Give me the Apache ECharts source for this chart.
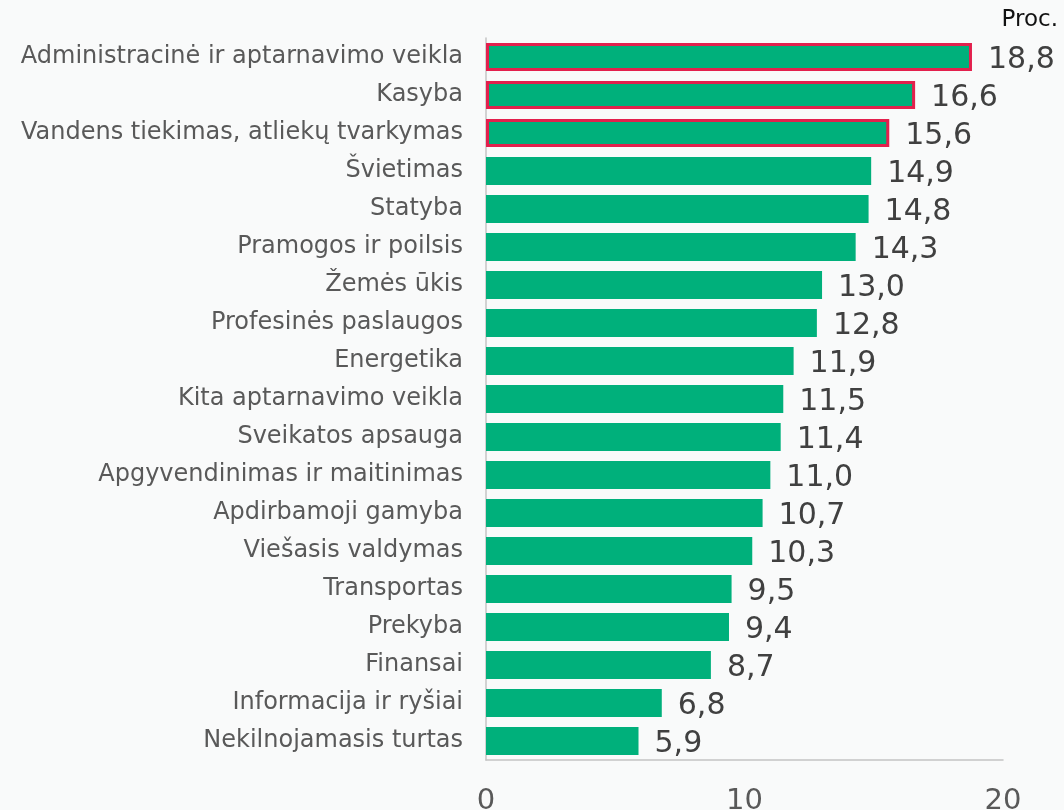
<!DOCTYPE html>
<html>
<head>
<meta charset="utf-8">
<script src="https://cdn.jsdelivr.net/npm/echarts@6/dist/echarts.min.js"></script>
<style>
  html, body { margin: 0; padding: 0; background: #f9fafa; }
  #chart { width: 1064px; height: 810px; }
</style>
</head>
<body>
<div id="chart"></div>
<script>
  // categories top to bottom
  var categories = [
    'Administracinė ir aptarnavimo veikla',
    'Kasyba',
    'Vandens tiekimas, atliekų tvarkymas',
    'Švietimas',
    'Statyba',
    'Pramogos ir poilsis',
    'Žemės ūkis',
    'Profesinės paslaugos',
    'Energetika',
    'Kita aptarnavimo veikla',
    'Sveikatos apsauga',
    'Apgyvendinimas ir maitinimas',
    'Apdirbamoji gamyba',
    'Viešasis valdymas',
    'Transportas',
    'Prekyba',
    'Finansai',
    'Informacija ir ryšiai',
    'Nekilnojamasis turtas'
  ];
  var values = [18.8, 16.6, 15.6, 14.9, 14.8, 14.3, 13.0, 12.8, 11.9, 11.5, 11.4, 11.0, 10.7, 10.3, 9.5, 9.4, 8.7, 6.8, 5.9];
  var highlighted = [0, 1, 2]; // bars with red outline
  var unitLabel = 'Proc.';

  var FONT = '"DejaVu Sans", Verdana, sans-serif';
  var chart = echarts.init(document.getElementById('chart'));

  var barData = values.map(function (v, i) {
    var item = { value: v };
    if (highlighted.indexOf(i) >= 0) {
      item.itemStyle = { borderColor: '#e3204d', borderWidth: 3 };
    }
    return item;
  });

  chart.setOption({
    backgroundColor: '#f9fafa',
    animation: false,
    graphic: [{
      type: 'text', right: 6, top: 9,
      style: { text: unitLabel, fontFamily: FONT, fontSize: 23, fill: '#111' }
    }],
    grid: { left: 486, right: 61, top: 38, bottom: 50, outerBoundsMode: 'none' },
    xAxis: {
      type: 'value', min: 0, max: 20, interval: 10,
      axisLine: { show: true, lineStyle: { color: '#c4c4c4', width: 1.5 } },
      axisTick: { show: false },
      splitLine: { show: false },
      axisLabel: { fontFamily: FONT, fontSize: 29, color: '#595959', margin: 27 }
    },
    yAxis: {
      type: 'category', inverse: true, data: categories,
      axisLine: { show: true, lineStyle: { color: '#c4c4c4', width: 1.5 } },
      axisTick: { show: false },
      axisLabel: { fontFamily: FONT, fontSize: 24, color: '#595959', margin: 23 }
    },
    series: [{
      type: 'bar',
      data: barData,
      barCategoryGap: '26%',
      itemStyle: { color: '#00b07b' },
      label: {
        show: true, position: 'right', distance: 16, offset: [0, 3],
        fontFamily: FONT, fontSize: 30, color: '#404040',
        formatter: function (p) { return p.value.toFixed(1).replace('.', ','); }
      }
    }]
  });
</script>
</body>
</html>
